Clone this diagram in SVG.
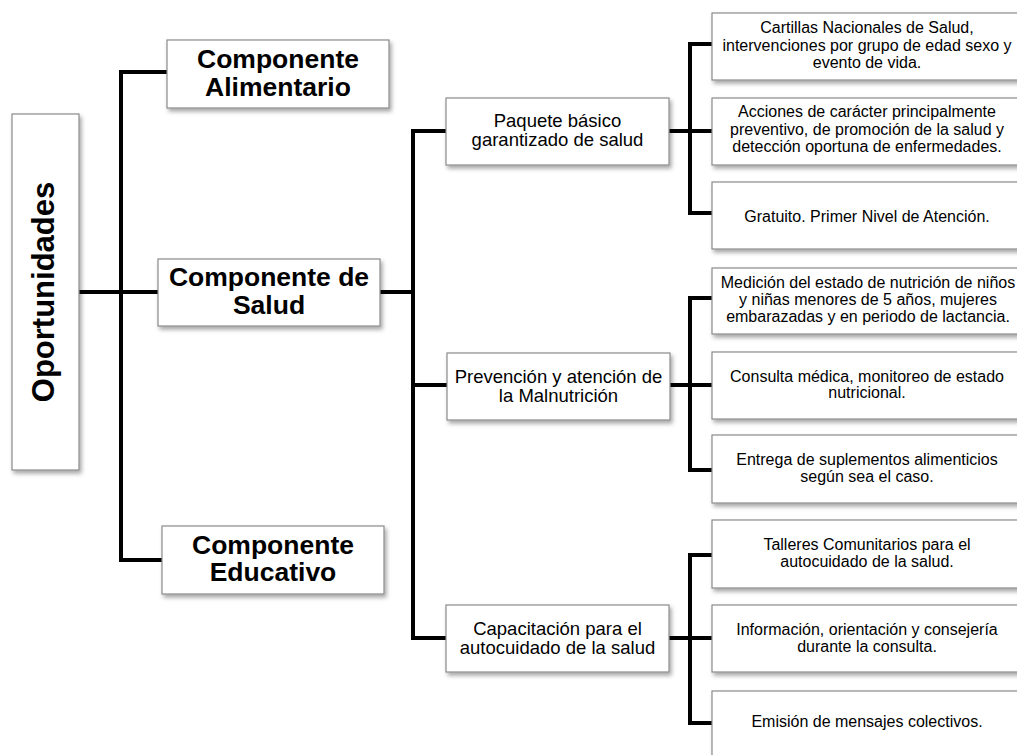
<svg xmlns="http://www.w3.org/2000/svg" width="1017" height="755" viewBox="0 0 1017 755">
<defs>
<filter id="sh" x="-10%" y="-10%" width="130%" height="140%">
<feDropShadow dx="2" dy="3" stdDeviation="2" flood-color="#000" flood-opacity="0.35"/>
</filter>
<style>
.box{fill:#fff;stroke:#8a8a8a;stroke-width:1.2;filter:url(#sh)}
.t1{font-family:"Liberation Sans",Arial,sans-serif;font-weight:bold;font-size:26.5px;fill:#000;text-anchor:middle}
.t0{font-family:"Liberation Sans",Arial,sans-serif;font-weight:bold;font-size:31px;fill:#000;text-anchor:middle}
.t2{font-family:"Liberation Sans",Arial,sans-serif;font-size:18.5px;fill:#000;text-anchor:middle}
.t3{font-family:"Liberation Sans",Arial,sans-serif;font-size:16px;fill:#000;text-anchor:middle}
.ln{fill:none;stroke:#000;stroke-width:4;stroke-linejoin:miter}
</style>
</defs>
<rect width="1017" height="755" fill="#fff"/>
<g id="connectors">
<path class="ln" d="M79 292 H121"/>
<path class="ln" d="M167 72 H121 V560 H162"/>
<path class="ln" d="M121 292 H158"/>
<path class="ln" d="M380 292 H413"/>
<path class="ln" d="M446 131 H413 V638 H446"/>
<path class="ln" d="M413 385 H447"/>
<path class="ln" d="M669 131 H712"/>
<path class="ln" d="M712 44 H690 V213 H712"/>
<path class="ln" d="M670 385 H712"/>
<path class="ln" d="M712 298 H690 V470 H712"/>
<path class="ln" d="M669 638 H712"/>
<path class="ln" d="M712 555 H690 V723 H712"/>
</g>
<g id="root">
<rect class="box" x="12" y="114" width="67" height="356"/>
<text class="t0" transform="translate(54 292) rotate(-90)">Oportunidades</text>
</g>
<g id="alimentario">
<rect class="box" x="167" y="40" width="222" height="68"/>
<text class="t1" x="278" y="68">Componente</text>
<text class="t1" x="278" y="96">Alimentario</text>
</g>
<g id="salud">
<rect class="box" x="158" y="259" width="222" height="67"/>
<text class="t1" x="269" y="286">Componente de</text>
<text class="t1" x="269" y="314">Salud</text>
</g>
<g id="educativo">
<rect class="box" x="162" y="526" width="222" height="68"/>
<text class="t1" x="273" y="554">Componente</text>
<text class="t1" x="273" y="581">Educativo</text>
</g>
<g id="paquete">
<rect class="box" x="446" y="98" width="223" height="67"/>
<text class="t2" x="557.5" y="127">Paquete básico</text>
<text class="t2" x="557.5" y="146">garantizado de salud</text>
</g>
<g id="prevencion">
<rect class="box" x="447" y="353" width="223" height="67"/>
<text class="t2" x="558.5" y="383">Prevención y atención de</text>
<text class="t2" x="558.5" y="402">la Malnutrición</text>
</g>
<g id="capacitacion">
<rect class="box" x="446" y="605" width="223" height="67"/>
<text class="t2" x="557.5" y="635">Capacitación para el</text>
<text class="t2" x="557.5" y="654">autocuidado de la salud</text>
</g>
<g id="leaf1">
<rect class="box" x="712" y="13" width="310" height="67"/>
<text class="t3" x="867" y="33">Cartillas Nacionales de Salud,</text>
<text class="t3" x="867" y="51">intervenciones por grupo de edad sexo y</text>
<text class="t3" x="867" y="68">evento de vida.</text>
</g>
<g id="leaf2">
<rect class="box" x="712" y="98" width="310" height="67"/>
<text class="t3" x="867" y="117">Acciones de carácter principalmente</text>
<text class="t3" x="867" y="135">preventivo, de promoción de la salud y</text>
<text class="t3" x="867" y="152">detección oportuna de enfermedades.</text>
</g>
<g id="leaf3">
<rect class="box" x="712" y="182" width="310" height="67"/>
<text class="t3" x="867" y="222">Gratuito. Primer Nivel de Atención.</text>
</g>
<g id="leaf4">
<rect class="box" x="712" y="268" width="310" height="66"/>
<text class="t3" x="868" y="288">Medición del estado de nutrición de niños</text>
<text class="t3" x="868" y="305">y niñas menores de 5 años, mujeres</text>
<text class="t3" x="868" y="322">embarazadas y en periodo de lactancia.</text>
</g>
<g id="leaf5">
<rect class="box" x="712" y="352" width="310" height="67"/>
<text class="t3" x="867" y="382">Consulta médica, monitoreo de estado</text>
<text class="t3" x="867" y="398">nutricional.</text>
</g>
<g id="leaf6">
<rect class="box" x="712" y="435" width="310" height="68"/>
<text class="t3" x="867" y="465">Entrega de suplementos alimenticios</text>
<text class="t3" x="867" y="482">según sea el caso.</text>
</g>
<g id="leaf7">
<rect class="box" x="712" y="520" width="310" height="68"/>
<text class="t3" x="867" y="550">Talleres Comunitarios para el</text>
<text class="t3" x="867" y="567">autocuidado de la salud.</text>
</g>
<g id="leaf8">
<rect class="box" x="712" y="605" width="310" height="67"/>
<text class="t3" x="867" y="635">Información, orientación y consejería</text>
<text class="t3" x="867" y="652">durante la consulta.</text>
</g>
<g id="leaf9">
<rect class="box" x="712" y="691" width="310" height="68"/>
<text class="t3" x="867" y="727">Emisión de mensajes colectivos.</text>
</g>
</svg>
